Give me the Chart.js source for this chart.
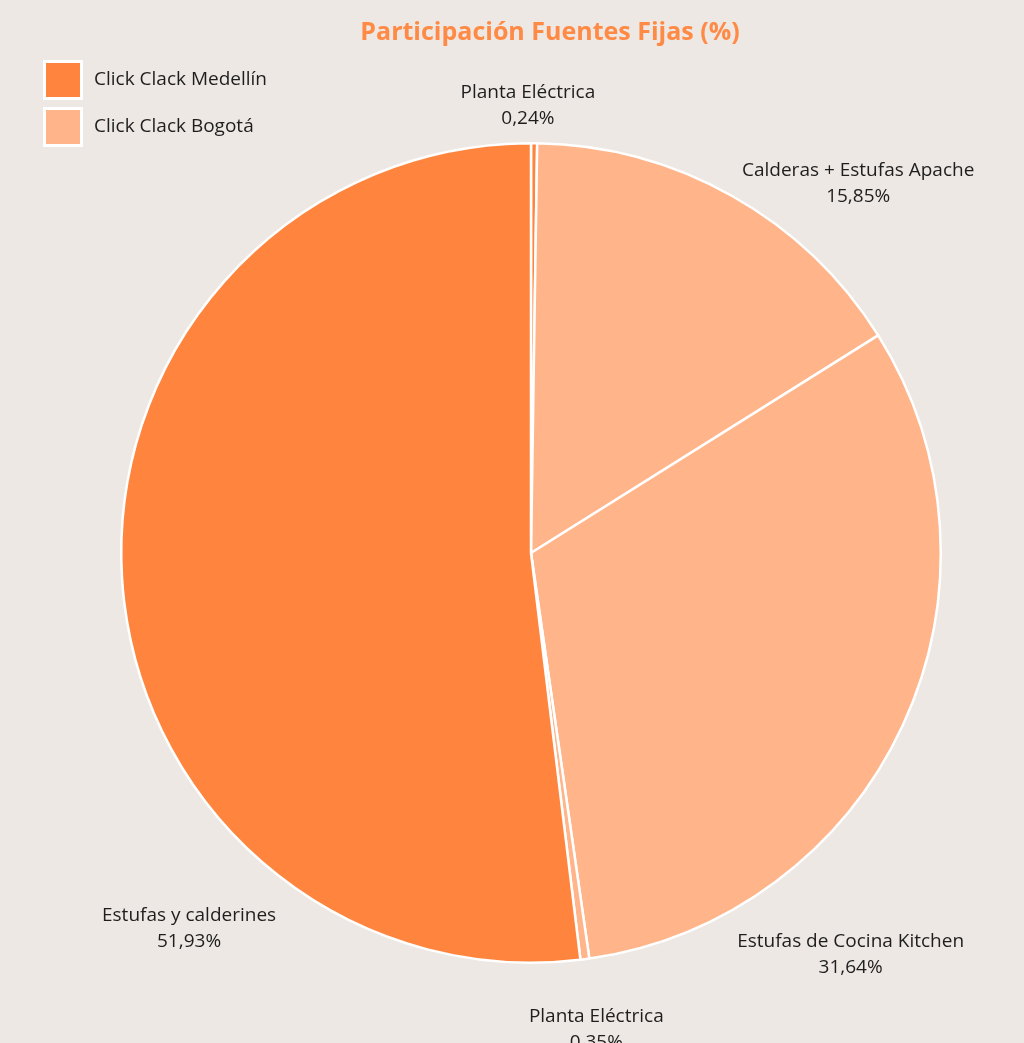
<!DOCTYPE html>
<html>
<head>
<meta charset="utf-8">
<script src="https://cdn.jsdelivr.net/npm/chart.js@4/dist/chart.umd.min.js"></script>
<style>
    html, body { margin: 0; padding: 0; background: #ede8e4; }
    #wrap { width: 1024px; height: 1043px; }
</style>
</head>
<body>
<div id="wrap"><canvas id="pie" width="1024" height="1043"></canvas></div>
<script>
// Data (clockwise from 12 o'clock)
const categories = ['Planta Eléctrica', 'Calderas + Estufas Apache', 'Estufas de Cocina Kitchen', 'Planta Eléctrica', 'Estufas y calderines'];
const shares = [0.24, 15.85, 31.64, 0.35, 51.93];
const sedes = ['Click Clack Medellín', 'Click Clack Bogotá', 'Click Clack Bogotá', 'Click Clack Bogotá', 'Click Clack Medellín'];
const legendNames = ['Click Clack Medellín', 'Click Clack Bogotá'];

const sedeColors = {
    'Click Clack Medellín': '#ff853f',
    'Click Clack Bogotá': '#ffb48a'
};
const FONT = '"Open Sans", "Noto Sans", sans-serif';

// where each label sits, relative to the pie: [angle from top (deg), radius factor]
const labelPlacement = [[-0.4, 1.093], [41.5, 1.205], [141.5, 1.253], [172.2, 1.174], [222.3, 1.24]];

const fmt = (v) => v.toFixed(2).replace('.', ',') + '%';

// title + legend painted straight on the canvas
const decorPlugin = {
    id: 'decor',
    afterDraw(chart) {
        const ctx = chart.ctx;
        ctx.save();
        ctx.font = 'bold 25px ' + FONT;
        ctx.fillStyle = '#ff8a45';
        ctx.textAlign = 'center';
        ctx.textBaseline = 'middle';
        ctx.fillText('Participación Fuentes Fijas (%)', 550, 33);

        legendNames.forEach((name, i) => {
            const y = 61 + i * 47;
            ctx.fillStyle = '#ffffff';
            ctx.fillRect(43, y - 1, 40, 40);
            ctx.fillStyle = sedeColors[name];
            ctx.fillRect(46, y + 2, 34, 34);
            ctx.fillStyle = '#1e1e1e';
            ctx.font = '19px ' + FONT;
            ctx.textAlign = 'left';
            ctx.fillText(name, 94, y + 19);
        });
        ctx.restore();
    }
};

// category + value labels around the pie
const labelPlugin = {
    id: 'sliceLabels',
    afterDatasetsDraw(chart) {
        const ctx = chart.ctx;
        const arcs = chart.getDatasetMeta(0).data;
        ctx.save();
        ctx.font = '19px ' + FONT;
        ctx.fillStyle = '#1e1e1e';
        ctx.textAlign = 'center';
        ctx.textBaseline = 'middle';
        arcs.forEach((arc, i) => {
            const [deg, k] = labelPlacement[i];
            const a = deg * Math.PI / 180;
            const r = arc.outerRadius * k;
            const x = arc.x + Math.sin(a) * r;
            const y = arc.y - Math.cos(a) * r;
            ctx.fillText(categories[i], x, y - 13);
            ctx.fillText(fmt(shares[i]), x, y + 13);
        });
        ctx.restore();
    }
};

new Chart(document.getElementById('pie').getContext('2d'), {
    type: 'pie',
    data: {
        labels: categories,
        datasets: [{
            data: shares,
            backgroundColor: sedes.map(s => sedeColors[s]),
            borderColor: '#ffffff',
            borderWidth: 2.5
        }]
    },
    options: {
        responsive: false,
        animation: false,
        layout: { padding: { left: 120, right: 82, top: 142, bottom: 79 } },
        plugins: {
            legend: { display: false },
            title: { display: false },
            tooltip: { enabled: false }
        }
    },
    plugins: [decorPlugin, labelPlugin]
});
</script>
</body>
</html>
